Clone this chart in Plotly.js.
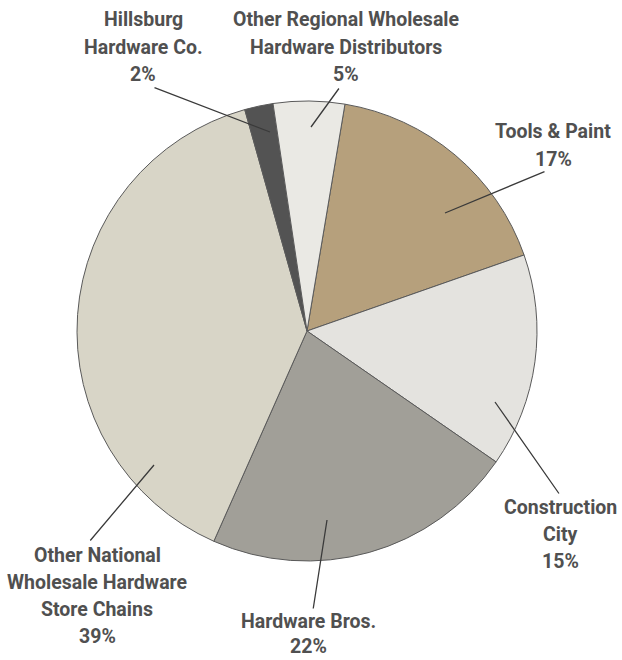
<!DOCTYPE html>
<html>
<head>
<meta charset="utf-8">
<script src="https://cdn.plot.ly/plotly-3.0.1.min.js"></script>
<style>
html,body{margin:0;padding:0;background:#fff;}
#chart{width:622px;height:660px;}
</style>
</head>
<body>
<div id="chart"></div>
<script>
// ---- data ----
const categories = ["Tools & Paint", "Construction City", "Hardware Bros.", "Other National Wholesale Hardware Store Chains", "Hillsburg Hardware Co.", "Other Regional Wholesale Hardware Distributors"];
const shares = [17, 15, 22, 39, 2, 5];
const labelLines = [
  ["Tools & Paint"],
  ["Construction", "City"],
  ["Hardware Bros."],
  ["Other National", "Wholesale Hardware", "Store Chains"],
  ["Hillsburg", "Hardware Co."],
  ["Other Regional Wholesale", "Hardware Distributors"]
];
const sliceColors = ["#b6a07c", "#e4e3df", "#a19f98", "#d8d5c7", "#535353", "#eae9e4"];

// ---- layout helpers (pixel positions for labels / leader lines) ----
const W = 622, H = 660;
const px = x => x / W;
const py = y => 1 - y / H;
// label anchor: centre x, y of first line; leader line from [x0,y0] to [x1,y1]
const labelPos = [
  {x: 553, y: 132, line: [546, 171, 445, 213]},
  {x: 560, y: 507, line: [560, 495, 495, 402]},
  {x: 308, y: 621, gap: 25.5, line: [313, 610, 327, 520]},
  {x: 97,  y: 555, line: [89, 542, 154, 465]},
  {x: 143, y: 20,  line: [153, 87, 270, 132]},
  {x: 346, y: 20,  line: [340, 87, 311, 127]}
];
const lineGap = 27.3;
const font = {family: 'Roboto, "Liberation Sans", sans-serif', size: 19.5, color: '#505050', weight: 700};

const annotations = [];
categories.forEach((c, i) => {
  const lines = labelLines[i].concat([shares[i] + "%"]);
  const p = labelPos[i];
  const g = p.gap || lineGap;
  lines.forEach((t, k) => {
    annotations.push({
      xref: 'paper', yref: 'paper', x: px(p.x), y: py(p.y + k * g),
      xanchor: 'center', yanchor: 'middle', text: t, showarrow: false, font: font,
      borderpad: 0
    });
  });
  const l = p.line;
  annotations.push({
    xref: 'paper', yref: 'paper', axref: 'paper', ayref: 'paper',
    x: px(l[2]), y: py(l[3]), ax: px(l[0]), ay: py(l[1]),
    text: '', showarrow: true, arrowhead: 0, arrowwidth: 1.3, arrowcolor: '#3a3a3a',
    standoff: 0, startstandoff: 0
  });
});

const data = [{
  type: 'pie',
  labels: categories,
  values: shares,
  sort: false,
  direction: 'clockwise',
  rotation: 9.5,
  textinfo: 'none',
  hoverinfo: 'label+percent',
  marker: {colors: sliceColors, line: {color: '#5a5a5a', width: 1}},
  domain: {x: [77 / W, 537 / W], y: [1 - 561 / H, 1 - 101 / H]},
  showlegend: false
}];

const layout = {
  width: W, height: H,
  margin: {l: 0, r: 0, t: 0, b: 0},
  paper_bgcolor: '#ffffff',
  showlegend: false,
  annotations: annotations
};

Plotly.newPlot('chart', data, layout, {displayModeBar: false, staticPlot: true});
</script>
</body>
</html>
